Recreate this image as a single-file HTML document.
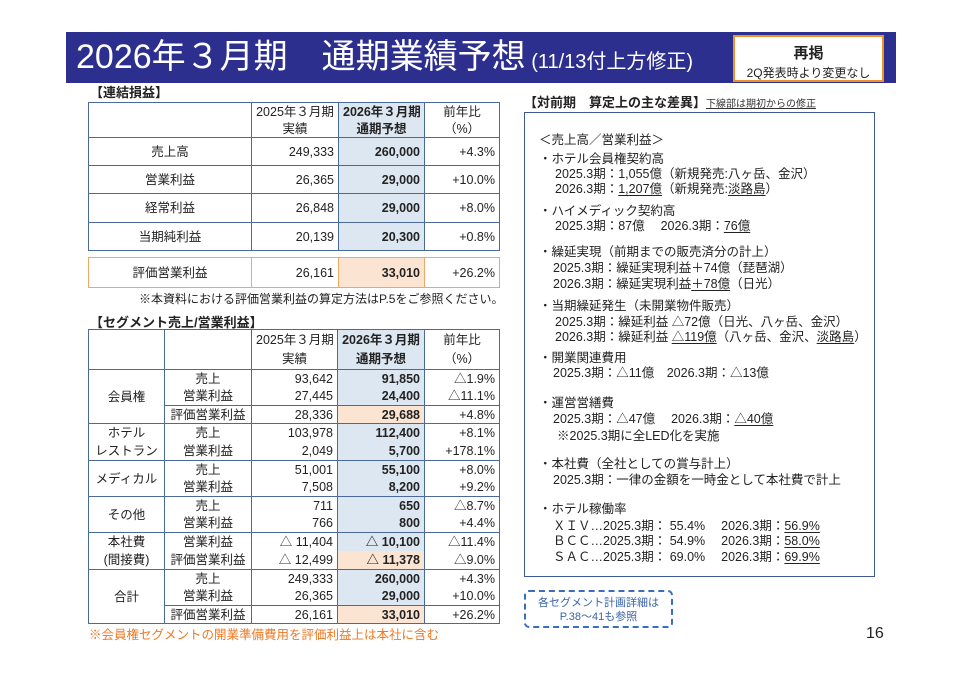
<!DOCTYPE html>
<html><head><meta charset="utf-8">
<style>
*{margin:0;padding:0;box-sizing:border-box}
body{width:960px;height:679px;background:#fff;position:relative;overflow:hidden;font-family:"Liberation Sans","Noto Sans CJK JP",sans-serif;color:#222}
.a{position:absolute;white-space:nowrap}
table{border-collapse:collapse;position:absolute;table-layout:fixed;font-size:12.5px;line-height:14px}
td{padding:0 4px;white-space:nowrap;overflow:hidden}
.t1 td{border:1.5px solid #4a6a9c}
.c{text-align:center}.r{text-align:right}
.b{background:#dde7f1;font-weight:bold}
.o{background:#fce4d2;font-weight:bold}
.seg td{border-left:1.5px solid #4a6a9c;border-right:1.5px solid #4a6a9c;height:18px}
.seg tr.g td{border-top:1.5px solid #4a6a9c}
.seg tr.e td.s{border-top:1px solid #4a6a9c}
.seg{border:1.5px solid #4a6a9c}
.rp div{position:absolute;white-space:nowrap;font-size:12.5px}
u{text-underline-offset:2px}
</style></head><body>
<div class="a" style="left:66px;top:32px;width:830px;height:51px;background:#2c2f8e"></div>
<div class="a" style="left:76px;top:34px;color:#fff;font-size:34px;line-height:46px">2026年３月期　通期業績予想<span style="font-size:20px"> (11/13付上方修正)</span></div>
<div class="a" style="left:733px;top:35px;width:151px;height:47px;background:#fff;border:2px solid #f0902a;text-align:center">
<div style="font-size:15px;font-weight:bold;margin-top:5px">再掲</div>
<div style="font-size:12px;margin-top:1px">2Q発表時より変更なし</div></div>

<div class="a" style="left:90px;top:82px;font-size:13px;font-weight:bold">【連結損益】</div>
<table class="t1" style="left:88px;top:102px;width:411px">
<colgroup><col style="width:163px"><col style="width:87px"><col style="width:86px"><col style="width:75px"></colgroup>
<tr style="height:18px"><td style="border-bottom:none" rowspan="2"></td><td class="c" style="border-bottom:none">2025年３月期</td><td class="c b" style="border-bottom:none">2026年３月期</td><td class="c" style="border-bottom:none">前年比</td></tr>
<tr style="height:17px"><td class="c" style="border-top:none">実績</td><td class="c b" style="border-top:none">通期予想</td><td class="c" style="border-top:none">（%）</td></tr>
<tr style="height:28px"><td class="c">売上高</td><td class="r">249,333</td><td class="r b">260,000</td><td class="r">+4.3%</td></tr>
<tr style="height:28px"><td class="c">営業利益</td><td class="r">26,365</td><td class="r b">29,000</td><td class="r">+10.0%</td></tr>
<tr style="height:29px"><td class="c">経常利益</td><td class="r">26,848</td><td class="r b">29,000</td><td class="r">+8.0%</td></tr>
<tr style="height:28px"><td class="c">当期純利益</td><td class="r">20,139</td><td class="r b">20,300</td><td class="r">+0.8%</td></tr>
</table>
<table style="left:88px;top:257px;width:411px;border:1.5px solid #f0a860">
<colgroup><col style="width:163px"><col style="width:87px"><col style="width:86px"><col style="width:75px"></colgroup>
<tr style="height:30px"><td class="c" style="border-right:1.5px solid #f0a860">評価営業利益</td><td class="r" style="border-right:1.5px solid #f0a860">26,161</td><td class="r o" style="border-right:1.5px solid #f0a860">33,010</td><td class="r">+26.2%</td></tr>
</table>
<div class="a" style="left:139px;top:290px;font-size:12px">※本資料における評価営業利益の算定方法はP.5をご参照ください。</div>

<div class="a" style="left:90px;top:312px;font-size:13px;font-weight:bold">【セグメント売上/営業利益】</div>
<table class="seg" style="left:88px;top:329px;width:411px">
<colgroup><col style="width:76px"><col style="width:87px"><col style="width:86px"><col style="width:87px"><col style="width:75px"></colgroup>
<tr style="height:20px"><td rowspan="2"></td><td rowspan="2"></td><td class="c">2025年３月期</td><td class="c b">2026年３月期</td><td class="c">前年比</td></tr>
<tr style="height:20px"><td class="c">実績</td><td class="c b">通期予想</td><td class="c">（%）</td></tr>
<tr class="g"><td class="c" rowspan="3">会員権</td><td class="c">売上</td><td class="r">93,642</td><td class="r b">91,850</td><td class="r">△1.9%</td></tr>
<tr><td class="c">営業利益</td><td class="r">27,445</td><td class="r b">24,400</td><td class="r">△11.1%</td></tr>
<tr class="e"><td class="c s">評価営業利益</td><td class="r s">28,336</td><td class="r o s">29,688</td><td class="r s">+4.8%</td></tr>
<tr class="g"><td class="c" rowspan="2" style="line-height:18px">ホテル<br>レストラン</td><td class="c">売上</td><td class="r">103,978</td><td class="r b">112,400</td><td class="r">+8.1%</td></tr>
<tr><td class="c">営業利益</td><td class="r">2,049</td><td class="r b">5,700</td><td class="r">+178.1%</td></tr>
<tr class="g"><td class="c" rowspan="2">メディカル</td><td class="c">売上</td><td class="r">51,001</td><td class="r b">55,100</td><td class="r">+8.0%</td></tr>
<tr><td class="c">営業利益</td><td class="r">7,508</td><td class="r b">8,200</td><td class="r">+9.2%</td></tr>
<tr class="g"><td class="c" rowspan="2">その他</td><td class="c">売上</td><td class="r">711</td><td class="r b">650</td><td class="r">△8.7%</td></tr>
<tr><td class="c">営業利益</td><td class="r">766</td><td class="r b">800</td><td class="r">+4.4%</td></tr>
<tr class="g"><td class="c" rowspan="2" style="line-height:18px">本社費<br>(間接費)</td><td class="c">営業利益</td><td class="r">△ 11,404</td><td class="r b">△ 10,100</td><td class="r">△11.4%</td></tr>
<tr><td class="c">評価営業利益</td><td class="r">△ 12,499</td><td class="r o">△ 11,378</td><td class="r">△9.0%</td></tr>
<tr class="g"><td class="c" rowspan="3">合計</td><td class="c">売上</td><td class="r">249,333</td><td class="r b">260,000</td><td class="r">+4.3%</td></tr>
<tr><td class="c">営業利益</td><td class="r">26,365</td><td class="r b">29,000</td><td class="r">+10.0%</td></tr>
<tr class="e"><td class="c s">評価営業利益</td><td class="r s">26,161</td><td class="r o s">33,010</td><td class="r s">+26.2%</td></tr>
</table>
<div class="a" style="left:89px;top:624px;font-size:12.5px;color:#f07820">※会員権セグメントの開業準備費用を評価利益上は本社に含む</div>

<div class="a" style="left:524px;top:92px;font-size:13px;font-weight:bold">【対前期　算定上の主な差異】<span style="font-size:10px;font-weight:normal;text-decoration:underline;color:#333">下線部は期初からの修正</span></div>
<div class="a" style="left:524px;top:112px;width:351px;height:465px;border:1.5px solid #3d5a96"></div>
<div class="rp">
<div style="left:539px;top:129px">＜売上高／営業利益＞</div>
<div style="left:539px;top:148px">・ホテル会員権契約高</div>
<div style="left:555px;top:163px">2025.3期：1,055億（新規発売:八ヶ岳、金沢）</div>
<div style="left:555px;top:178px">2026.3期：<u>1,207億</u>（新規発売:<u>淡路島</u>）</div>
<div style="left:539px;top:200px">・ハイメディック契約高</div>
<div style="left:555px;top:215px">2025.3期：87億　 2026.3期：<u>76億</u></div>
<div style="left:539px;top:241px">・繰延実現（前期までの販売済分の計上）</div>
<div style="left:553px;top:257px">2025.3期：繰延実現利益＋74億（琵琶湖）</div>
<div style="left:553px;top:273px">2026.3期：繰延実現利益<u>＋78億</u>（日光）</div>
<div style="left:539px;top:295px">・当期繰延発生（未開業物件販売）</div>
<div style="left:555px;top:311px">2025.3期：繰延利益 △72億（日光、八ヶ岳、金沢）</div>
<div style="left:555px;top:326px">2026.3期：繰延利益 <u>△119億</u>（八ヶ岳、金沢、<u>淡路島</u>）</div>
<div style="left:539px;top:347px">・開業関連費用</div>
<div style="left:553px;top:362px">2025.3期：△11億　2026.3期：△13億</div>
<div style="left:539px;top:392px">・運営営繕費</div>
<div style="left:553px;top:408px">2025.3期：△47億　 2026.3期：<u>△40億</u></div>
<div style="left:557px;top:425px">※2025.3期に全LED化を実施</div>
<div style="left:539px;top:453px">・本社費（全社としての賞与計上）</div>
<div style="left:553px;top:469px">2025.3期：一律の金額を一時金として本社費で計上</div>
<div style="left:539px;top:498px">・ホテル稼働率</div>
<div style="left:553px;top:515px">ＸＩＶ…2025.3期： 55.4%　 2026.3期：<u>56.9%</u></div>
<div style="left:553px;top:530px">ＢＣＣ…2025.3期： 54.9%　 2026.3期：<u>58.0%</u></div>
<div style="left:553px;top:546px">ＳＡＣ…2025.3期： 69.0%　 2026.3期：<u>69.9%</u></div>
</div>
<div class="a" style="left:524px;top:590px;width:149px;height:38px;border:2px dashed #3a6cc0;border-radius:5px;text-align:center;color:#3a64a8;font-size:11px;line-height:14px;padding-top:4px">各セグメント計画詳細は<br>P.38～41も参照</div>
<div class="a" style="left:866px;top:625px;font-size:16px">16</div>
</body></html>
